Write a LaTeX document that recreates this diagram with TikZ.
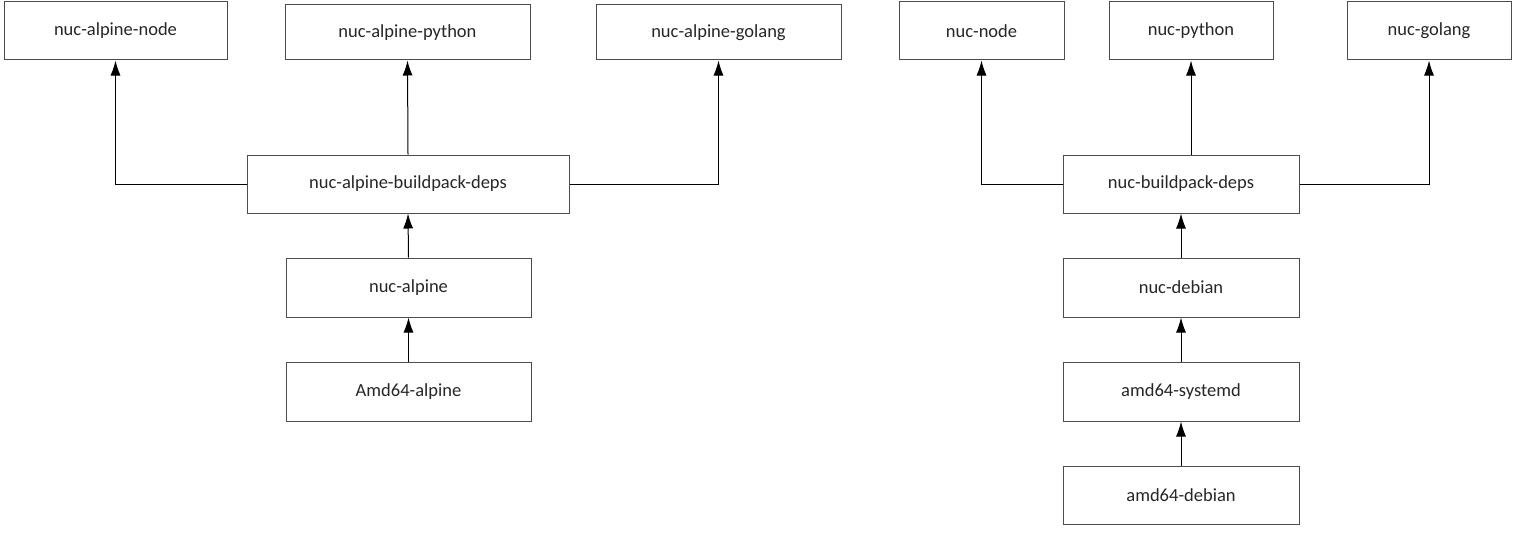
\documentclass[tikz,border=0pt]{standalone}
\usepackage{fontspec}
\setmainfont{Carlito}
\usetikzlibrary{arrows.meta}
\tikzset{
  box/.style={draw=black!70, line width=1pt, rectangle, inner sep=0pt, font=\fontsize{18.5}{21}\selectfont, text=black!85},
  arr/.style={draw=black, line width=1pt, -{Latex[length=15pt,width=10pt]}}
}
\begin{document}
\begin{tikzpicture}[x=1pt,y=-1pt]
\useasboundingbox (0,0) rectangle (1538,543);
% left tree
\node[box, minimum width=223pt, minimum height=58pt] (aNode) at (115.5,31) {nuc-alpine-node};
\node[box, minimum width=245pt, minimum height=55pt] (aPy) at (407.5,32.5) {nuc-alpine-python};
\node[box, minimum width=245pt, minimum height=55pt] (aGo) at (718.5,32.5) {nuc-alpine-golang};
\node[box, minimum width=322pt, minimum height=58pt] (aBp) at (408,184) {nuc-alpine-buildpack-deps};
\node[box, minimum width=245pt, minimum height=59pt] (aNuc) at (408.5,287.5) {nuc-alpine};
\node[box, minimum width=245pt, minimum height=59pt] (aAmd) at (408.5,391.5) {Amd64-alpine};
% right tree
\node[box, minimum width=165pt, minimum height=58pt] (dNode) at (981.5,31) {nuc-node};
\node[box, minimum width=164pt, minimum height=58pt] (dPy) at (1191,31) {nuc-python};
\node[box, minimum width=164pt, minimum height=58pt] (dGo) at (1429,31) {nuc-golang};
\node[box, minimum width=236pt, minimum height=58pt] (dBp) at (1181,184) {nuc-buildpack-deps};
\node[box, minimum width=236pt, minimum height=59pt] (dDeb) at (1181,287.5) {nuc-debian};
\node[box, minimum width=236pt, minimum height=59pt] (dSys) at (1181,391.5) {amd64-systemd};
\node[box, minimum width=236pt, minimum height=58pt] (dAmd) at (1181,495) {amd64-debian};
% left connectors
\draw[arr] (aBp.west) -| (aNode.south);
\draw[arr] (aBp.north) -- (aPy.south);
\draw[arr] (aBp.east) -| (aGo.south);
\draw[arr] (aNuc.north) -- (aBp.south);
\draw[arr] (aAmd.north) -- (aNuc.south);
% right connectors
\draw[arr] (dBp.west) -| (dNode.south);
\draw[arr] (dBp.north -| dPy.south) -- (dPy.south);
\draw[arr] (dBp.east) -| (dGo.south);
\draw[arr] (dDeb.north) -- (dBp.south);
\draw[arr] (dSys.north) -- (dDeb.south);
\draw[arr] (dAmd.north) -- (dSys.south);
\end{tikzpicture}
\end{document}
